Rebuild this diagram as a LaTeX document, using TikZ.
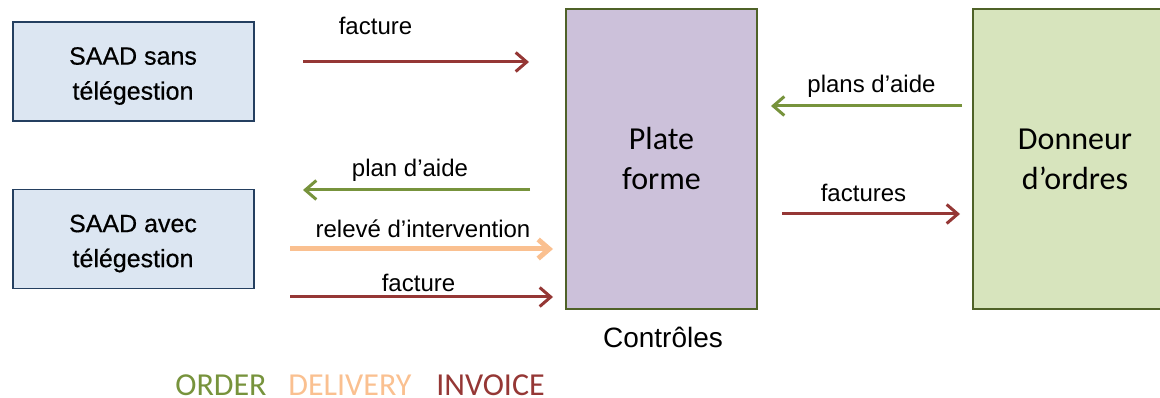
\documentclass[tikz,border=0pt]{standalone}
\usepackage{fontspec}
\setmainfont{Liberation Sans}
\newfontfamily\calib{Carlito}
\newfontfamily\saadfont[FakeBold=0.4]{Liberation Sans}
\usetikzlibrary{arrows.meta}
\definecolor{ordcol}{HTML}{77933C}
\definecolor{delcol}{HTML}{FAC090}
\definecolor{invcol}{HTML}{953735}
\definecolor{saadfill}{HTML}{DCE6F2}
\definecolor{saadline}{HTML}{243F60}
\definecolor{platefill}{HTML}{CCC1DA}
\definecolor{donfill}{HTML}{D7E4BD}
\definecolor{boxline}{HTML}{4F6228}
\tikzset{
	saad/.style={draw=saadline,fill=saadfill,line width=1.5pt,minimum width=241pt,minimum height=99pt},
	saadtext/.style={align=center,font=\saadfont\fontsize{25}{35}\selectfont},
	bigbox/.style={draw=boxline,fill=#1,line width=2pt,minimum height=300pt,
		align=center,font=\calib\fontsize{32}{40}\selectfont},
	lbl/.style={anchor=base,font=\fontsize{24}{28}\selectfont},
	legend/.style={anchor=base,inner sep=0pt,text=#1,font=\calib\fontsize{32}{36}\selectfont},
	flow/.style={line width=#1,-{Straight Barb[length=11pt,width=19pt]}},
	ordarrow/.style={flow=3pt,draw=ordcol},
	delarrow/.style={flow=5pt,draw=delcol},
	invarrow/.style={flow=3pt,draw=invcol}
}
\begin{document}
\begin{tikzpicture}[x=1pt,y=-1pt]
	\useasboundingbox (0,0) rectangle (1160,398);
	
	% boxes
	\node[saad] (sans) at (133.5,71.5) {};
	\node[saadtext] (sanstxt) at (133,76) {SAAD sans\\télégestion};
	\node[saad] (avec) at (133.5,239) {};
	\node[saadtext] (avectxt) at (133,243.5) {SAAD avec\\télégestion};
	\node[bigbox=platefill,minimum width=191pt] (plate) at (661.5,159) {Plate\\forme};
	\node[bigbox=donfill,minimum width=204pt] (donneur) at (1075,159.5) {Donneur\\d’ordres};
	\node[anchor=base,font=\fontsize{28}{30}\selectfont] (controles) at (663,347) {Contrôles};
	
	% arrow ends
	\coordinate (f1s) at (303,62);   \coordinate (f1e) at (529,62);
	\coordinate (pas) at (530,190);  \coordinate (pae) at (303,190);
	\coordinate (ris) at (290,249);  \coordinate (rie) at (553,249);
	\coordinate (f2s) at (290,297);  \coordinate (f2e) at (553,297);
	\coordinate (pds) at (962,106);  \coordinate (pde) at (771,106);
	\coordinate (fss) at (782,214);  \coordinate (fse) at (960,214);
	
	\draw[invarrow] (f1s) -- (f1e);
	\draw[ordarrow] (pas) -- (pae);
	\draw[delarrow] (ris) -- (rie);
	\draw[invarrow] (f2s) -- (f2e);
	\draw[ordarrow] (pds) -- (pde);
	\draw[invarrow] (fss) -- (fse);
	
	% labels
	\node[lbl] (l1) at (375.5,35) {facture};
	\node[lbl] (l2) at (410,177) {plan d’aide};
	\node[lbl] (l3) at (423,238) {relevé d’intervention};
	\node[lbl] (l4) at (418.5,292) {facture};
	\node[lbl] (l5) at (871.5,93) {plans d’aide};
	\node[lbl] (l6) at (863.5,202) {factures};
	
	% legend
	\node[legend=ordcol] (ord) at (221,395) {ORDER};
	\node[legend=delcol] (del) at (350,395) {DELIVERY};
	\node[legend=invcol] (inv) at (490.5,395) {INVOICE};
\end{tikzpicture}
\end{document}
